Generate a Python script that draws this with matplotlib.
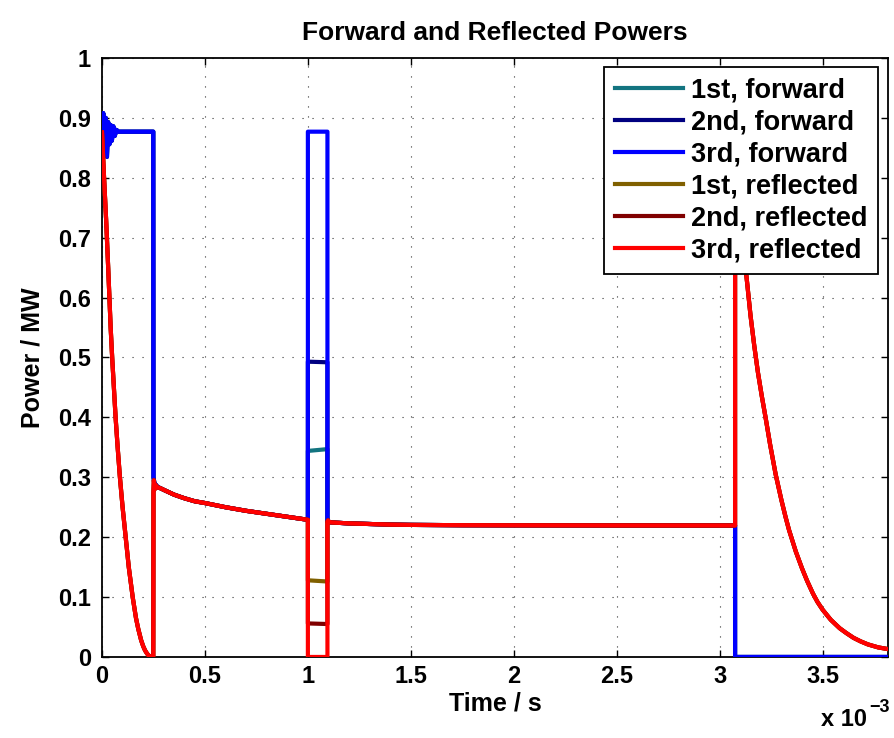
import matplotlib
matplotlib.use('Agg')
import matplotlib.pyplot as plt

# time in ms (axis shown in s with a x10^-3 multiplier)
# filling: forward with ringing, reflected falling to zero
t_rise = [0.000, 0.006, 0.012, 0.018, 0.024, 0.030, 0.036, 0.042, 0.048, 0.055, 0.062, 0.070, 0.080, 0.249]
fwd_rise = [0.82, 0.908, 0.845, 0.90, 0.835, 0.893, 0.856, 0.888, 0.862, 0.886, 0.870, 0.880, 0.877, 0.877]

t_fill = [0.000, 0.010, 0.020, 0.030, 0.042, 0.050, 0.066, 0.076, 0.087, 0.100, 0.115, 0.130,
          0.149, 0.165, 0.176, 0.190, 0.200, 0.209, 0.218, 0.225, 0.233, 0.241, 0.249]
refl_fill = [0.876, 0.80, 0.73, 0.65, 0.55, 0.496, 0.40, 0.35, 0.30, 0.25, 0.20, 0.15,
             0.10, 0.065, 0.047, 0.028, 0.018, 0.011, 0.006, 0.003, 0.001, 0.0, 0.0]

# after the first step (forward == reflected)
t_decay = [0.250, 0.252, 0.256, 0.260, 0.270, 0.282, 0.300, 0.350, 0.400, 0.450,
           0.500, 0.600, 0.700, 0.800, 0.900, 1.000]
fwd_decay = [0.300, 0.296, 0.286, 0.288, 0.284, 0.282, 0.279, 0.271, 0.265, 0.260,
             0.257, 0.250, 0.244, 0.239, 0.234, 0.229]
refl_decay = [0.275, 0.295, 0.280, 0.287, 0.283, 0.282, 0.279, 0.271, 0.265, 0.260,
              0.257, 0.250, 0.244, 0.239, 0.234, 0.229]

# short window where the three ports differ
t_win = [1.000, 1.095]
fwd_win = {'1st': [0.344, 0.347], '2nd': [0.493, 0.492], '3rd': [0.877, 0.877]}
refl_win = {'1st': [0.128, 0.126], '2nd': [0.056, 0.055], '3rd': [0.0, 0.0]}

t_flat = [1.095, 1.098, 1.102, 1.120, 1.200, 1.300, 1.400, 1.500, 1.750, 2.000, 2.500, 3.075]
p_flat = [0.226, 0.228, 0.225, 0.2245, 0.223, 0.222, 0.221, 0.2205, 0.2200, 0.2198, 0.2196, 0.2195]

# switch-off
t_off = [3.075, 3.085, 3.100, 3.121, 3.135, 3.150, 3.168, 3.186, 3.205, 3.223, 3.245,
         3.272, 3.300, 3.320, 3.337, 3.370, 3.400, 3.425, 3.453, 3.475, 3.500, 3.540,
         3.583, 3.615, 3.650, 3.685, 3.720, 3.770, 3.820]
refl_off = [0.87, 0.81, 0.75, 0.665, 0.62, 0.57, 0.52, 0.475, 0.435, 0.40, 0.355,
            0.305, 0.262, 0.234, 0.212, 0.176, 0.148, 0.127, 0.106, 0.092, 0.079, 0.062,
            0.048, 0.040, 0.032, 0.026, 0.021, 0.016, 0.013]
t_fwd_off = [3.075, 3.820]
fwd_off = [0.0, 0.0]

ports = ['1st', '2nd', '3rd']
fwd_colors = {'1st': '#137480', '2nd': '#000080', '3rd': '#0000ff'}
refl_colors = {'1st': '#806000', '2nd': '#800000', '3rd': '#ff0000'}

plt.rcParams['font.family'] = ['Liberation Sans', 'DejaVu Sans']
plt.rcParams['font.weight'] = 'bold'

fig = plt.figure(figsize=(8.94, 7.38), dpi=100)
ax = fig.add_axes([0.1141, 0.1098, 0.8797, 0.8116])

for p in ports:
    t = t_rise + t_decay + t_win + t_flat + t_fwd_off
    y = fwd_rise + fwd_decay + fwd_win[p] + p_flat + fwd_off
    ax.plot(t, y, color=fwd_colors[p], lw=3, label=p + ', forward', zorder=3)
for p in ports:
    t = t_fill + t_decay + t_win + t_flat + t_off
    y = refl_fill + refl_decay + refl_win[p] + p_flat + refl_off
    ax.plot(t, y, color=refl_colors[p], lw=3, label=p + ', reflected', zorder=3)

ax.set_xlim(0, 3.82)
ax.set_ylim(0, 1)
xt = [0, 0.5, 1, 1.5, 2, 2.5, 3, 3.5]
ax.set_xticks(xt)
ax.set_xticklabels(['0', '0.5', '1', '1.5', '2', '2.5', '3', '3.5'])
yt = [i / 10 for i in range(11)]
ax.set_yticks(yt)
ax.set_yticklabels(['0'] + ['%.1f' % v for v in yt[1:-1]] + ['1'])
ax.tick_params(direction='in', length=5, width=1, top=True, right=True, labelsize=17)
ax.tick_params(axis='y', pad=8)
ax.tick_params(axis='x', pad=6)
for s in ax.spines.values():
    s.set_linewidth(1.3)
ax.grid(True, color='0.2', linestyle=(0, (1, 8)), linewidth=0.8)
ax.set_axisbelow(True)

ax.set_title('Forward and Reflected Powers', fontsize=19, fontweight='bold', pad=13)
ax.set_xlabel('Time / s', fontsize=18, fontweight='bold', labelpad=2)
ax.set_ylabel('Power / MW', fontsize=18, fontweight='bold', labelpad=10)

ax.text(0.973, -0.105, 'x 10', transform=ax.transAxes, ha='right', va='center',
        fontsize=17, fontweight='bold')
ax.text(0.975, -0.085, '\u22123', transform=ax.transAxes, ha='left', va='center',
        fontsize=13, fontweight='bold')

leg = ax.legend(loc='upper right', bbox_to_anchor=(0.987, 0.985), borderaxespad=0,
                fontsize=19.5, handlelength=2.5, handletextpad=0.3, labelspacing=0.22,
                borderpad=0.4, fancybox=False, framealpha=1, edgecolor='k')
leg.get_frame().set_linewidth(1.3)
for txt in leg.get_texts():
    txt.set_fontweight('bold')

fig.savefig('out.png', dpi=100)
plt.close(fig)
